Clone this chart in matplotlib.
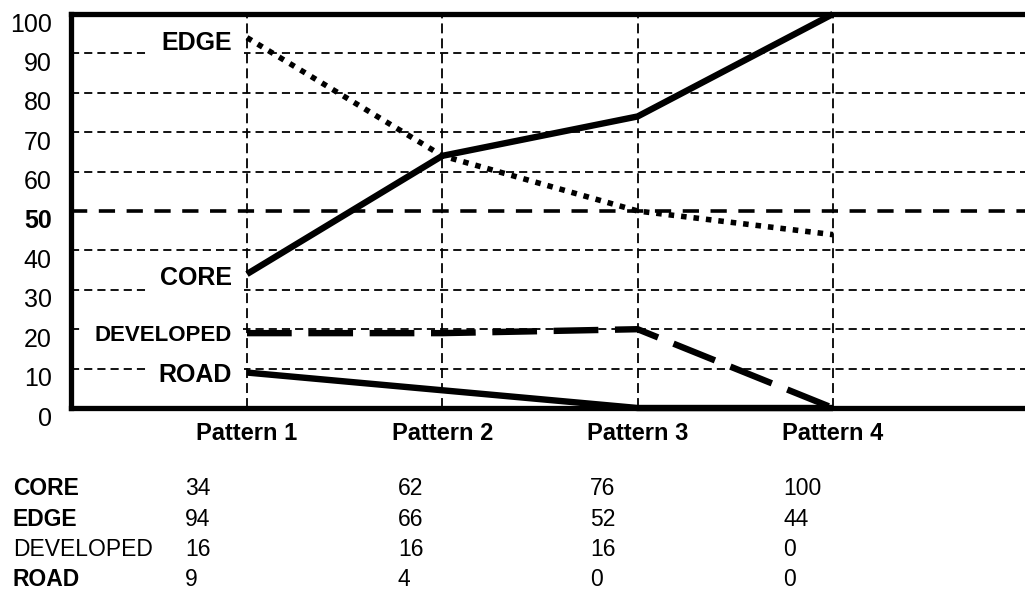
import matplotlib
matplotlib.use("Agg")
import matplotlib.pyplot as plt
from matplotlib.transforms import ScaledTranslation

plt.rcParams['font.family'] = ['Liberation Sans', 'DejaVu Sans']

# ---- data ----
patterns = ["Pattern 1", "Pattern 2", "Pattern 3", "Pattern 4"]
series_names = ["CORE", "EDGE", "DEVELOPED", "ROAD"]
# values as drawn in the plot
core = [34, 64, 74, 100]
edge = [94, 64, 50, 44]
developed = [19, 19, 20, 0]
road = [9, 4.5, 0, 0]
# values printed in the table under the chart
table_core = [34, 62, 76, 100]
table_edge = [94, 66, 52, 44]
table_developed = [16, 16, 16, 0]
table_road = [9, 4, 0, 0]
yticks = list(range(0, 101, 10))

W, H = 1025, 599
fig = plt.figure(figsize=(W / 100, H / 100), dpi=100)
ax = fig.add_axes([71 / W, 191 / H, 954 / W, 394 / H])

xs = list(range(1, len(patterns) + 1))
ax.set_xlim(0.099, 4.983)
ax.set_ylim(0, 100)

# horizontal grid
for y in yticks[1:-1]:
    if y == 50:
        ax.axhline(y, color='black', lw=2.6, ls=(0, (4.5, 3.2)), zorder=1)
    else:
        ax.axhline(y, color='black', lw=1.3, ls=(0, (4.5, 2.8)), zorder=1)
# vertical grid
for x in xs:
    ax.axvline(x, color='black', lw=1.3, ls=(0, (5.5, 2.8)), zorder=3)

# series
ax.plot(xs, core, color='black', lw=4.6, solid_capstyle='butt', zorder=5, clip_on=False)
ax.plot(xs, edge, color='black', lw=4.0, ls=(0, (1, 1.25)), zorder=5, clip_on=False)
ax.plot(xs, developed, color='black', lw=4.6, ls=(0, (7, 2.6)), zorder=5, clip_on=False)
ax.plot(xs, road, color='black', lw=4.6, solid_capstyle='butt', zorder=5, clip_on=False)

# in-plot series labels (white boxes hide the grid)
lab_x = xs[0] - 15 / 195.3
bb = dict(facecolor='white', edgecolor='none', pad=9)
ax.text(lab_x, edge[0] - 1.3, "EDGE", ha='right', va='center', fontsize=18,
        fontweight='bold', bbox=bb, zorder=2)
ax.text(lab_x, core[0] - 1.0, "CORE", ha='right', va='center', fontsize=18,
        fontweight='bold', bbox=bb, zorder=2)
ax.text(lab_x, developed[0] - 0.6, "DEVELOPED", ha='right', va='center', fontsize=16,
        fontweight='bold', bbox=dict(facecolor='white', edgecolor='none', pad=8), zorder=2)
ax.text(lab_x, road[0] - 0.7, "ROAD", ha='right', va='center', fontsize=18,
        fontweight='bold', bbox=bb, zorder=2)

# spines
for s in ['top', 'left', 'bottom']:
    ax.spines[s].set_linewidth(3.8)
ax.spines['right'].set_visible(False)

ax.set_yticks(yticks)
ax.set_yticklabels([str(v) for v in yticks], fontsize=18)
ax.set_xticks(xs)
ax.set_xticklabels(patterns, fontsize=17, fontweight='bold')
ax.tick_params(axis='y', length=0, pad=14)
ax.tick_params(axis='x', length=0, pad=10)
for lbl in ax.get_yticklabels():
    if lbl.get_text() == "50":
        lbl.set_fontweight('bold')
    lbl.set_transform(lbl.get_transform() + ScaledTranslation(0, -0.08, fig.dpi_scale_trans))

# table beneath the chart
table_rows = [table_core, table_edge, table_developed, table_road]
row_weights = ['bold', 'bold', 'normal', 'bold']
row_base = [495, 525.5, 556, 586.5]
col_x = [185, 398, 590, 783]
for name, vals, wgt, yb in zip(series_names, table_rows, row_weights, row_base):
    fig.text(13 / W, 1 - yb / H, name, fontsize=16.5, fontweight=wgt,
             ha='left', va='baseline')
    for cx, v in zip(col_x, vals):
        fig.text(cx / W, 1 - yb / H, str(v), fontsize=16.5, ha='left', va='baseline')

fig.savefig("out.png", dpi=100)
